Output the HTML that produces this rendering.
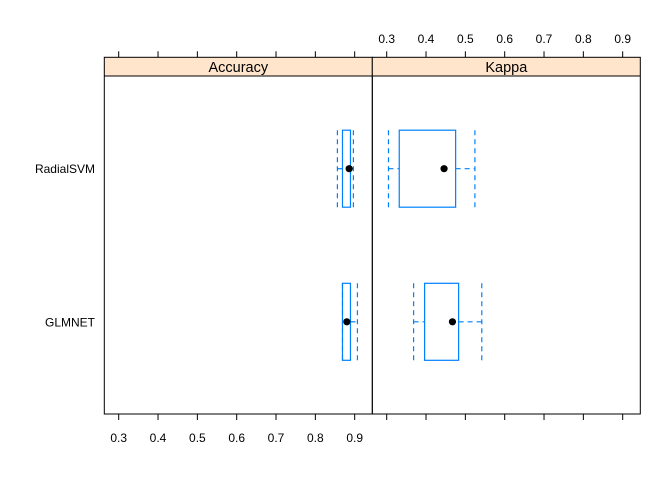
<!DOCTYPE html>
<html><head><meta charset="utf-8"><style>body{margin:0;background:#fff}svg{display:block;font-family:"Liberation Sans",Arial,sans-serif}</style></head>
<body>
<svg id="c" width="672" height="480"></svg>
<script>
const models=["RadialSVM","GLMNET"];
const panels=["Accuracy","Kappa"];
const ticks=[0.3,0.4,0.5,0.6,0.7,0.8,0.9];
// [whiskerLo, q1, median, q3, whiskerHi]
const accRadial=[0.8576,0.8705,0.8875,0.8908,0.8983];
const accGlmnet=[0.8705,0.8705,0.8816,0.8908,0.9085];
const kapRadial=[0.306,0.3334,0.4474,0.4768,0.5258];
const kapGlmnet=[0.3699,0.3979,0.4687,0.4844,0.5433];
const stats=[[accRadial,accGlmnet],[kapRadial,kapGlmnet]];
const svg=document.getElementById('c');const NS='http://www.w3.org/2000/svg';
function el(t,a,p){const e=document.createElementNS(NS,t);for(const k in a)e.setAttribute(k,a[k]);(p||svg).appendChild(e);return e;}
const topY=57.3,stripB=76,bot=414,pw=268,left0=104.3;
const px=(p,v)=>left0+p*pw+14.4+(v-0.3)*393.3;
const bx=(p,v)=>px(p,v)-0.6;
const rowY=[168.7,321.8],bh=77;
panels.forEach((name,p)=>{
 const g=el('g',{});
 
 
 const x0=left0+p*pw;
 const s=el('rect',{x:x0,y:topY,width:pw,height:stripB-topY,fill:'#ffe5cc',stroke:'none'},g);
 
 
 const st=el('text',{x:x0+pw/2,y:stripB-4,'text-anchor':'middle','font-size':14.5,fill:'#000'},g);st.textContent=name;
 
 
 el('line',{x1:x0,x2:x0+pw,y1:stripB,y2:stripB,stroke:'#000'},g);
 el('rect',{x:x0,y:topY,width:pw,height:bot-topY,fill:'none',stroke:'#000'},g);
 ticks.forEach(t=>{
  const x=px(p,t);
  el('line',{x1:x,x2:x,y1:topY,y2:topY-6,stroke:'#000'},g);
  el('line',{x1:x,x2:x,y1:bot,y2:bot+6,stroke:'#000'},g);
  const lab=el('text',{x:x,y:p==0?442:43,'text-anchor':'middle','font-size':12,fill:'#000'},g);
  lab.textContent=t.toFixed(1);
  
  
 });
 models.forEach((m,i)=>{
  const d=stats[p][i],y=rowY[i],c='#0080ff';
  const b=el('g',{},g);
  
  
  const ya=y-bh/2,yb=y+bh/2;
  el('line',{x1:bx(p,d[0]),x2:bx(p,d[1]),y1:y,y2:y,stroke:c,'stroke-dasharray':'5,4','stroke-width':1.2},b);
  el('line',{x1:bx(p,d[3]),x2:bx(p,d[4]),y1:y,y2:y,stroke:c,'stroke-dasharray':'5,4','stroke-width':1.2},b);
  el('line',{x1:bx(p,d[0]),x2:bx(p,d[0]),y1:ya,y2:yb,stroke:c,'stroke-dasharray':'5,4','stroke-width':1.2},b);
  el('line',{x1:bx(p,d[4]),x2:bx(p,d[4]),y1:ya,y2:yb,stroke:c,'stroke-dasharray':'5,4','stroke-width':1.2},b);
  el('rect',{x:bx(p,d[1]),y:ya,width:bx(p,d[3])-bx(p,d[1]),height:bh,fill:'none',stroke:c,'stroke-width':1.2},b);
  el('circle',{cx:bx(p,d[2]),cy:y,r:3.6,fill:'#000'},b);
 });
});
models.forEach((m,i)=>{
 const t=el('text',{x:95,y:rowY[i]+4.5,'text-anchor':'end','font-size':12,fill:'#000'});t.textContent=m;
 
 
});
</script>
</body></html>
